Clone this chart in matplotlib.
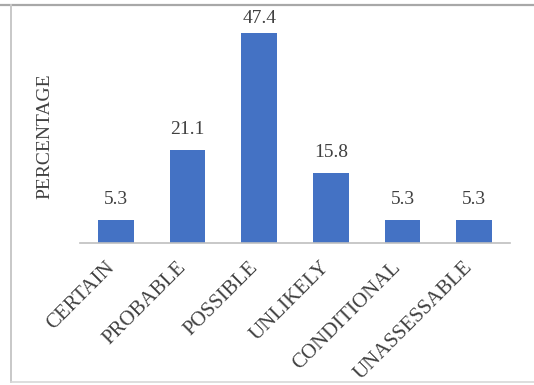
import matplotlib
matplotlib.use("Agg")
import matplotlib.pyplot as plt
from matplotlib.lines import Line2D
from matplotlib.transforms import ScaledTranslation

categories = ["CERTAIN", "PROBABLE", "POSSIBLE", "UNLIKELY", "CONDITIONAL", "UNASSESSABLE"]
percentages = [5.3, 21.1, 47.4, 15.8, 5.3, 5.3]

plt.rcParams["font.family"] = ["Liberation Serif", "DejaVu Serif"]
text_color = "#404040"
bar_color = "#4472C4"

W, H = 534, 385
fig = plt.figure(figsize=(W / 100, H / 100), dpi=100)

# outer chart frame (top, left, bottom edges)
def fy(py):
    return 1 - py / H

fig.add_artist(Line2D([0, 1], [fy(5), fy(5)], transform=fig.transFigure,
                      color="#a8a8a8", linewidth=1.6))
fig.add_artist(Line2D([11 / W, 11 / W], [fy(5), fy(382)], transform=fig.transFigure,
                      color="#c8c8c8", linewidth=1.4))
fig.add_artist(Line2D([11 / W, 1], [fy(382), fy(382)], transform=fig.transFigure,
                      color="#d8d8d8", linewidth=1.2))

ax = fig.add_axes([80 / W, 142 / H, 430 / W, 221.5 / H])
x = range(len(categories))
bars = ax.bar(x, percentages, width=0.5, color=bar_color)
y_top = 50
ax.set_xlim(-0.5, len(categories) - 0.5)
ax.set_ylim(0, y_top)

# value labels above bars, kept inside the plot area
for rect, v in zip(bars, percentages):
    ax.text(rect.get_x() + rect.get_width() / 2, min(v + 3.6, y_top - 0.4),
            f"{v:.1f}", ha="center", va="baseline", fontsize=14, color=text_color)

for s in ["top", "right", "left"]:
    ax.spines[s].set_visible(False)
ax.spines["bottom"].set_color("#bfbfbf")
ax.spines["bottom"].set_linewidth(1.2)
ax.set_yticks([])
ax.set_xticks(list(x))
ax.set_xticklabels(categories, rotation=45, ha="right", rotation_mode="anchor",
                   fontsize=15, color=text_color)
ax.tick_params(axis="x", length=0, pad=10)
shift = ScaledTranslation(-11 / 100, -1 / 100, fig.dpi_scale_trans)
for lbl in ax.get_xticklabels():
    lbl.set_transform(lbl.get_transform() + shift)

fig.text(45 / W, 1 - 136 / H, "PERCENTAGE", rotation=90, ha="center", va="center",
         fontsize=14, color=text_color)

fig.savefig("out.png", dpi=100)
